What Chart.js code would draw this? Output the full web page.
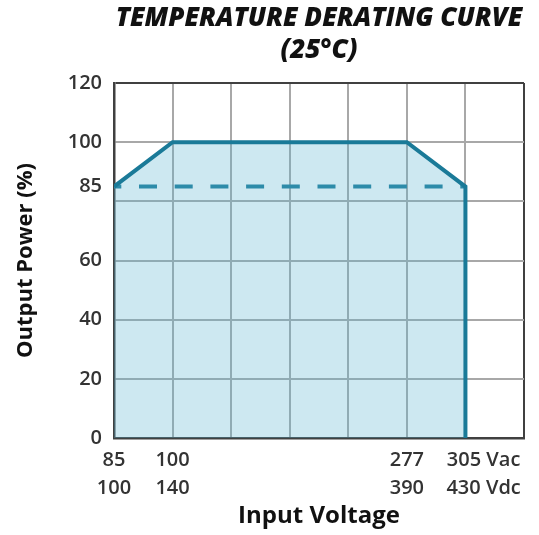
<!DOCTYPE html>
<html>
<head>
<meta charset="utf-8">
<script src="https://cdn.jsdelivr.net/npm/chart.js@4.4.1/dist/chart.umd.min.js"></script>
<style>
  html, body { margin: 0; padding: 0; background: #fff; }
  #wrap { width: 539px; height: 535px; }
</style>
</head>
<body>
<div id="wrap"><canvas id="myChart"></canvas></div>
<script>
'use strict';

// x positions are grid columns (0..7), labels only on some of them
var xTickPos = [0, 1, 5, 6];
var xTickLabels = [['85', '100'], ['100', '140'], ['277', '390'], ['305 Vac', '430 Vdc']];
var yGrid = [0, 20, 40, 60, 80, 85, 100, 120];
var yTickLabels = [0, 20, 40, 60, 85, 100, 120];

// derating curve (solid) and 85% line (dashed)
var curveX = [0, 1, 5, 6, 6];
var curveY = [85, 100, 100, 85, 0];
var dashX = [0, 6];
var dashY = [85, 85];

var lineColor = '#1a7a98';
var gridColor = '#a8a8a8';
var frameColor = '#404040';

function toPoints(xs, ys) {
  return xs.map(function(x, i) { return {x: x, y: ys[i]}; });
}

var ctx = document.getElementById('myChart').getContext('2d');
var myChart = new Chart(ctx, {
  type: 'line',
  data: {
    datasets: [{
      data: toPoints(curveX, curveY),
      borderColor: lineColor,
      borderWidth: 4,
      borderJoinStyle: 'miter',
      backgroundColor: 'rgba(90, 180, 210, 0.3)',
      fill: 'origin',
      pointRadius: 0,
      tension: 0
    }, {
      data: toPoints(dashX, dashY),
      borderColor: lineColor,
      borderWidth: 4,
      borderDash: [18, 17.7],
      borderDashOffset: 10.7,
      fill: false,
      pointRadius: 0,
      tension: 0
    }]
  },
  options: {
    responsive: true,
    maintainAspectRatio: false,
    animation: false,
    layout: {padding: {left: 8, right: 15, top: 0, bottom: 0}},
    plugins: {
      legend: {display: false},
      tooltip: {enabled: false},
      title: {
        display: true,
        fullSize: false,
        text: ['TEMPERATURE DERATING CURVE', '(25°C)'],
        color: '#111',
        font: {family: '"Open Sans"', size: 26, weight: 800, style: 'italic', lineHeight: 1.25},
        padding: {top: 2, bottom: 16}
      }
    },
    scales: {
      x: {
        type: 'linear',
        min: 0,
        max: 7,
        afterBuildTicks: function(scale) {
          scale.ticks = [0, 1, 2, 3, 4, 5, 6, 7].map(function(v) { return {value: v}; });
        },
        afterFit: function(scale) { scale.height = 97; },
        ticks: {
          autoSkip: false,
          maxRotation: 0,
          padding: 8,
          color: '#333',
          font: {family: '"Open Sans"', size: 20, weight: 600, lineHeight: 1.4},
          callback: function(v) {
            var i = xTickPos.indexOf(v);
            if (i < 0) return '';
            return xTickLabels[i].map(function(s) {
              return s.indexOf(' ') > 0 ? '       ' + s : s;
            });
          }
        },
        grid: {
          drawTicks: false,
          lineWidth: 2,
          color: function(c) { return c.tick && c.tick.value === 7 ? frameColor : gridColor; }
        },
        border: {color: frameColor, width: 2.5},
        title: {
          display: true,
          text: 'Input Voltage',
          color: '#111',
          font: {family: '"Open Sans"', size: 24, weight: 'bold', lineHeight: 1.2},
          padding: {top: 0, bottom: 4}
        }
      },
      y: {
        min: 0,
        max: 120,
        afterBuildTicks: function(scale) {
          scale.ticks = yGrid.map(function(v) { return {value: v}; });
        },
        afterFit: function(scale) { scale.width = 106; },
        ticks: {
          padding: 12,
          color: '#333',
          font: {family: '"Open Sans"', size: 20, weight: 600},
          callback: function(v) { return yTickLabels.indexOf(v) >= 0 ? String(v) : ''; }
        },
        grid: {
          drawTicks: false,
          lineWidth: 2,
          color: function(c) {
            if (!c.tick) return gridColor;
            if (c.tick.value === 85) return 'rgba(0,0,0,0)';
            if (c.tick.value === 120) return frameColor;
            return gridColor;
          }
        },
        border: {color: frameColor, width: 2.5},
        title: {
          display: true,
          text: 'Output Power (%)',
          color: '#111',
          font: {family: '"Open Sans"', size: 22, weight: 'bold', lineHeight: 1.2},
          padding: {top: 5, bottom: 0}
        }
      }
    }
  }
});
</script>
</body>
</html>
